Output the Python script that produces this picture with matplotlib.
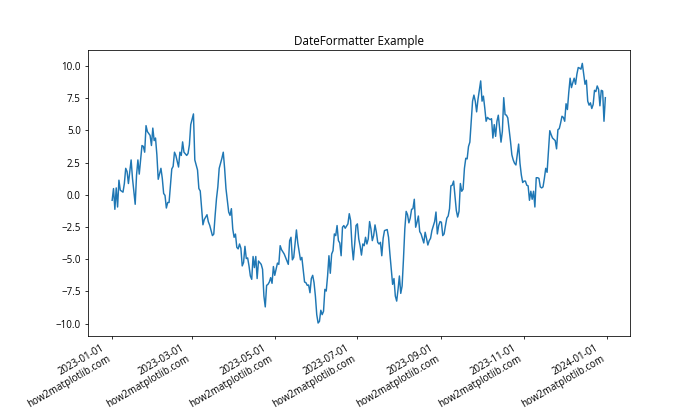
import datetime as dt

import matplotlib

matplotlib.use("Agg")
import matplotlib.dates as mdates
import matplotlib.pyplot as plt

plt.rcParams["font.family"] = ["Open Sans", "DejaVu Sans"]

START_DATE = dt.date(2023, 1, 1)

# Days after 2023-01-01 and the value at that day.
day_offsets = [
    0, 1, 2, 3, 4, 5, 6, 8, 9, 10, 11, 12, 14, 15, 17, 18, 19, 20, 22, 23,
    24, 25, 26, 28, 29, 30, 31, 32, 33, 34, 36, 37, 38, 39, 40, 41, 42, 44,
    45, 46, 47, 49, 50, 51, 52, 53, 55, 56,
    57, 58, 60, 61, 63, 64, 65, 67, 68, 70, 71, 72, 74, 75, 76, 77, 78, 79,
    81, 82, 83, 84, 86, 87, 88, 89, 90, 91, 92, 93, 94, 95, 96, 97, 98, 99,
    100, 101, 102, 103, 104, 105, 106, 107, 108, 110, 111, 112, 113, 114,
    115, 116,
    117, 118, 119, 120, 122, 123, 124, 125, 127, 128, 130, 131, 132, 133,
    134, 136, 137, 139, 140, 142, 143, 144, 145, 146, 147, 148, 149, 150,
    151, 152, 153, 154, 155, 156, 157, 158, 159, 160, 161, 162, 163, 164,
    165, 166, 167, 168, 169, 170, 171, 172, 174, 175, 176, 177, 178, 179,
    180, 181, 182, 183, 184, 185, 186, 187, 188, 189, 190, 191, 192, 193,
    194, 195, 196, 197, 198, 199, 200, 201, 203, 204, 205, 206, 207, 208,
    209, 210, 211, 212, 213, 214, 215, 216, 217, 218, 219, 220, 221, 222,
    223, 224, 225, 226, 227, 228, 229, 230, 231, 232, 233, 234, 235, 236,
    238, 239, 240, 241,
    242, 243, 244, 245, 246, 247, 248, 249, 250, 251, 252, 253, 254, 255,
    256, 257, 258, 259, 260, 261, 262, 263, 264, 265, 266, 267, 268, 269,
    270, 271, 272, 273, 274, 275, 276, 277, 278, 279, 280, 281, 282, 283,
    284, 285, 286, 287, 288, 289, 290, 291, 292, 293, 294, 295, 296, 297,
    298, 299, 300, 301, 302, 303, 304,
    305, 306, 307, 308, 309, 310, 311, 312, 313, 314, 315, 316, 317, 318,
    319, 320, 321, 322, 323, 324, 325, 327, 328, 329, 330, 331, 332, 333,
    334, 335, 336, 337, 338, 339, 340, 341, 342, 343, 344, 345, 346, 347,
    348, 349, 350, 351, 352, 353, 354, 355, 356, 357, 358, 359, 360, 361,
    362, 363, 364,
]
values = [
    -0.43, 0.48, -1.13, 0.53, -0.95, 1.13, 0.35, 0.20, 0.87, 2.05, 1.80,
    0.87, 2.70, 1.27, -0.74, 1.53, 2.70, 1.60, 3.82, 3.75, 3.30, 5.36, 4.90,
    4.60, 3.82, 5.17, 4.20, 4.40, 3.10, 1.20, 2.05, 1.27, 0.10, -0.05, -1.03,
    -0.60, -0.60, 2.00, 2.20, 3.30, 3.05, 2.15, 3.30, 3.05, 4.10, 3.30, 3.05,
    3.20,
    3.87, 5.44, 6.27, 2.70, 1.92, 0.48, 0.30, -2.33, -1.92, -1.55, -2.10,
    -2.37, -3.17, -3.05, -1.60, -0.30, 0.61, 2.05, 2.83, 3.30, 2.05, 0.48,
    -1.34, -1.60, -1.08, -2.65, -3.30, -3.05, -4.08, -4.20, -3.82, -4.15,
    -5.52, -5.25, -4.00, -4.95, -4.90, -5.52, -6.30, -6.56, -4.79, -5.65,
    -4.79, -6.50, -5.14, -5.40, -5.78, -7.86, -8.70, -7.03, -6.95, -6.77,
    -6.43, -6.87, -5.57, -6.25, -5.30, -5.40, -3.95, -4.26, -4.60, -4.86,
    -5.40, -3.56, -3.30, -5.05, -4.86, -2.73, -3.74, -5.05, -4.86, -6.77,
    -6.82, -7.03, -7.00, -7.60, -6.50, -6.25, -6.82, -7.86, -9.30, -9.95,
    -9.82, -8.96, -9.30, -9.04, -7.34, -7.47, -6.30, -4.73, -6.09, -4.60,
    -4.34, -3.04, -3.17, -2.39, -3.56, -3.74, -4.73, -2.52, -2.39, -2.60,
    -2.26, -1.47, -2.00, -3.95, -5.05, -3.82,
    -2.39, -2.26, -3.43, -3.95, -4.68, -3.82, -3.95, -3.30, -3.82, -3.43,
    -2.08, -2.65, -3.56, -3.17, -2.34, -2.91, -3.69, -3.82, -3.69, -4.73,
    -3.38, -2.78, -2.70, -3.30, -4.60, -5.78, -6.95, -6.50, -7.86, -8.25,
    -7.34, -6.30, -7.65, -7.08, -5.00, -2.65, -1.29, -1.55, -2.18, -1.81,
    -1.13, -1.08, -0.35, -2.52, -2.13, -1.65, -2.86, -3.04, -3.38, -3.74,
    -2.91, -3.38, -3.90, -3.56, -3.38, -2.78, -2.08, -1.34, -3.04, -2.39,
    -2.08, -2.13, -3.17, -3.04, -2.39, -1.81, -1.65, -1.08, 0.69, 0.74, 1.06,
    -0.04, -1.21, -1.73, -1.29, 0.87, 0.27, 0.43, 2.05, 2.83, 2.78, 3.74,
    4.08, 5.70, 7.26, 7.73, 7.26, 6.43, 7.40, 8.10, 8.83, 7.26, 7.65, 6.74,
    5.70, 6.00, 5.90, 5.83, 5.90, 4.40, 5.44, 4.53, 5.70, 6.17, 5.13, 4.08,
    4.92, 7.53, 6.22, 6.17, 5.96, 5.05, 4.14, 3.10, 2.70, 2.44, 2.31, 3.10,
    3.93, 2.44, 1.53, 0.95, 1.06,
    1.06, 0.74, 0.69, -0.43, 0.27, -0.35, 0.27, -0.95, 1.32, 1.32, 1.27,
    0.61, 0.53, 0.61, 1.27, 2.05, 1.74, 3.35, 4.97, 4.66, 4.40, 4.20, 3.56,
    5.05, 5.13, 5.57, 6.09, 6.00, 5.70, 7.06, 6.61, 7.92, 9.04, 8.31, 8.70,
    9.04, 8.57, 9.35, 9.87, 9.82, 9.74, 10.19, 9.35, 8.57, 8.88, 7.26, 6.95,
    7.13, 6.69, 7.00, 8.10, 8.00, 8.44, 8.18, 6.90, 8.10, 8.05, 5.70, 7.53,
]

dates = [START_DATE + dt.timedelta(days=d) for d in day_offsets]

fig, ax = plt.subplots(figsize=(10, 6), dpi=70)
ax.plot(dates, values)
ax.set_title("DateFormatter Example")
ax.xaxis.set_major_locator(mdates.MonthLocator(bymonth=[1, 3, 5, 7, 9, 11]))
ax.xaxis.set_major_formatter(mdates.DateFormatter("%Y-%m-%d\nhow2matplotlib.com"))
fig.autofmt_xdate()
fig.savefig("out.png", dpi=70)
